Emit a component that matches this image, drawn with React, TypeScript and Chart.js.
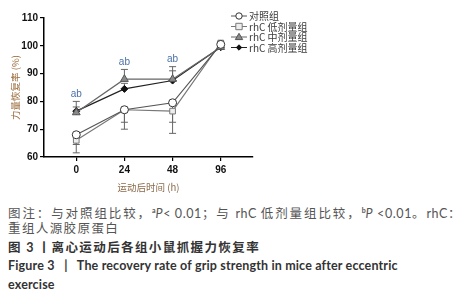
import React, { useEffect, useRef } from "react";
import { Chart, registerables } from "chart.js";

Chart.register(...registerables);

const categories = ["0", "24", "48", "96"];
const seriesNames = ["对照组", "rhC 低剂量组", "rhC 中剂量组", "rhC 高剂量组"];
const controlValues = [68, 77, 79.5, 100.5];
const lowValues = [66, 77, 76.5, 101];
const midValues = [76, 88, 88, 99.5];
const highValues = [76.5, 84.5, 87.5, 99.5];
const controlErr = [3.5, 4.5, 7, 1];
const lowErr = [4.5, 7, 8, 1];
const midErr = [4, 3.5, 4.5, 1];
const highErr = [1.5, 2, 3.5, 1];
// error bar direction per series: -1 below, +1 above
const errDirections = [-1, -1, 1, 1];
const significance = ["ab", "ab", "ab", ""];
const yTicks = [60, 70, 80, 90, 100, 110];

const allValues = [controlValues, lowValues, midValues, highValues];
const allErrs = [controlErr, lowErr, midErr, highErr];

const styles = [
  { line: "#555", radius: 4, style: "circle", bg: "#ffffff", border: "#333" },
  { line: "#777", radius: 4, style: "rect", bg: "#eeeeee", border: "#777" },
  { line: "#666", radius: 4.5, style: "triangle", bg: "#8a8a8a", border: "#555" },
  { line: "#222", radius: 3.5, style: "rectRot", bg: "#111", border: "#111" },
];

export default function App() {
  const ref = useRef<HTMLCanvasElement | null>(null);

  useEffect(() => {
    if (!ref.current) return;
    const legendPlugin = {
      id: "legendDraw",
      afterDraw(chart: any) {
        const ctx = chart.ctx;
        const lx = 231;
        const ly = [16, 26.5, 37, 47.5];
        ctx.save();
        ctx.font = "10px 'Noto Sans CJK SC', sans-serif";
        ctx.textAlign = "left";
        ctx.textBaseline = "middle";
        seriesNames.forEach((name, si) => {
          const st = styles[si];
          const y = ly[si];
          ctx.strokeStyle = st.line;
          ctx.lineWidth = 1;
          ctx.beginPath();
          ctx.moveTo(lx, y);
          ctx.lineTo(lx + 16, y);
          ctx.stroke();
          ctx.fillStyle = st.bg;
          ctx.strokeStyle = st.border;
          const r = st.radius - 0.8;
          ctx.beginPath();
          if (st.style === "circle") {
            ctx.arc(lx + 8, y, r, 0, Math.PI * 2);
          } else if (st.style === "rect") {
            ctx.rect(lx + 8 - r, y - r, 2 * r, 2 * r);
          } else if (st.style === "triangle") {
            ctx.moveTo(lx + 8, y - r);
            ctx.lineTo(lx + 8 + r, y + r * 0.7);
            ctx.lineTo(lx + 8 - r, y + r * 0.7);
            ctx.closePath();
          } else {
            ctx.moveTo(lx + 8, y - r);
            ctx.lineTo(lx + 8 + r, y);
            ctx.lineTo(lx + 8, y + r);
            ctx.lineTo(lx + 8 - r, y);
            ctx.closePath();
          }
          ctx.fill();
          ctx.stroke();
          ctx.fillStyle = "#3a3a3a";
          ctx.fillText(name, lx + 18, y + 0.5);
        });
        ctx.restore();
      },
    };
    const ebPlugin = {
      id: "eb",
      beforeDatasetsDraw(chart: any) {
        const ctx = chart.ctx;
        const xs = chart.scales.x;
        const ys = chart.scales.y;
        ctx.save();
        ctx.strokeStyle = "#666";
        ctx.lineWidth = 1;
        allValues.forEach((vals, si) => {
          vals.forEach((v, i) => {
            const e = allErrs[si][i];
            const x = xs.getPixelForValue(i);
            const y0 = ys.getPixelForValue(v);
            const y1 = ys.getPixelForValue(v + errDirections[si] * e);
            ctx.beginPath();
            ctx.moveTo(x, y0);
            ctx.lineTo(x, y1);
            ctx.moveTo(x - 3.5, y1);
            ctx.lineTo(x + 3.5, y1);
            ctx.stroke();
          });
        });
        ctx.restore();
      },
      afterDatasetsDraw(chart: any) {
        const ctx = chart.ctx;
        const xs = chart.scales.x;
        const ys = chart.scales.y;
        ctx.save();
        ctx.font = "10px 'Liberation Sans', Arial, sans-serif";
        ctx.fillStyle = "#4a70a8";
        ctx.textAlign = "center";
        ctx.textBaseline = "bottom";
        significance.forEach((s, i) => {
          if (!s) return;
          const top = midValues[i] + midErr[i];
          ctx.fillText(s, xs.getPixelForValue(i), ys.getPixelForValue(top) - 2);
        });
        ctx.restore();
      },
    };

    const chart = new Chart(ref.current, {
      type: "line",
      data: {
        datasets: allValues.map((vals, si) => ({
          label: seriesNames[si],
          data: vals.map((v, i) => ({ x: i, y: v })),
          borderColor: styles[si].line,
          borderWidth: 1.2,
          pointStyle: styles[si].style as any,
          pointRadius: styles[si].radius,
          pointBackgroundColor: styles[si].bg,
          pointBorderColor: styles[si].border,
          pointBorderWidth: 1,
          fill: false,
          tension: 0,
        })),
      },
      options: {
        animation: false,
        responsive: false,
        devicePixelRatio: 1,
        layout: { padding: { left: 0, right: 205, top: 18, bottom: 0 } },
        plugins: { legend: { display: false }, tooltip: { enabled: false } },
        scales: {
          x: {
            type: "linear",
            min: -0.67,
            max: 3.67,
            afterBuildTicks: (s: any) => {
              s.ticks = categories.map((_, i) => ({ value: i }));
            },
            afterFit: (s: any) => {
              s.height = 38;
            },
            ticks: {
              callback: (v: any) => categories[v] ?? "",
              color: "#111",
              font: { family: "'Liberation Sans', Arial, sans-serif", size: 10, weight: "bold" },
              padding: 3,
              maxRotation: 0,
            },
            grid: { drawOnChartArea: false, drawTicks: true, tickLength: 4, color: "#000", lineWidth: 1.2 },
            border: { display: true, color: "#000", width: 1.5 },
            title: {
              display: true,
              text: "运动后时间 (h)",
              color: "#8a6a4a",
              font: { family: "'Noto Sans CJK SC', sans-serif", size: 9.5 },
              padding: { top: 0, bottom: 2 },
            },
          },
          y: {
            min: 60,
            max: 110,
            afterBuildTicks: (s: any) => {
              s.ticks = yTicks.map((v) => ({ value: v }));
            },
            afterFit: (s: any) => {
              s.width = 44;
            },
            ticks: {
              color: "#111",
              font: { family: "'Liberation Sans', Arial, sans-serif", size: 10, weight: "bold" },
              padding: 2,
            },
            grid: { drawOnChartArea: false, drawTicks: true, tickLength: 4, color: "#000", lineWidth: 1.2 },
            border: { display: true, color: "#000", width: 1.5 },
            title: {
              display: true,
              text: "力量恢复率 (%)",
              color: "#9a6a3a",
              font: { family: "'Noto Sans CJK SC', sans-serif", size: 9.5 },
              padding: { top: 10, bottom: 0 },
            },
          },
        },
      },
      plugins: [ebPlugin, legendPlugin],
    } as any);
    return () => chart.destroy();
  }, []);

  const capStyle: React.CSSProperties = {
    position: "absolute",
    left: 8,
    whiteSpace: "nowrap",
    fontSize: 12.5,
    lineHeight: "16px",
    letterSpacing: "1.4px",
    fontFamily: "'Noto Sans CJK SC', sans-serif",
  };
  const latin: React.CSSProperties = { fontFamily: "Lato, sans-serif", letterSpacing: 0 };
  const latin1: React.CSSProperties = { fontFamily: "Lato, sans-serif", letterSpacing: "0.6px" };
  const sup: React.CSSProperties = { fontSize: 7, verticalAlign: "5px", fontFamily: "Lato, sans-serif", letterSpacing: 0, fontWeight: "bold" };

  return (
    <div style={{ position: "absolute", left: 0, top: 0, width: 458, height: 300, background: "#fff" }}>
      <canvas ref={ref} width={458} height={195} style={{ position: "absolute", left: 0, top: 0, width: 458, height: 195 }} />
      <div style={{ ...capStyle, top: 202, color: "#555", letterSpacing: "1.9px" }}>
        图注：与对照组比较，<span style={sup}>a</span>
        <span style={latin1}><i>P</i>&lt; 0.01</span>；与 <span style={latin1}>rhC </span>低剂量组比较，
        <span style={sup}>b</span>
        <span style={latin1}><i>P</i> &lt;0.01</span>。<span style={latin1}>rhC</span>：
      </div>
      <div style={{ ...capStyle, top: 220, color: "#555" }}>
        重组人源胶原蛋白
      </div>
      <div style={{ ...capStyle, top: 239, color: "#333", fontWeight: "bold" }}>
        图 <span style={latin}>3</span> 丨离心运动后各组小鼠抓握力恢复率
      </div>
      <div style={{ ...capStyle, ...latin, top: 258, color: "#333", fontWeight: "bold", fontSize: 12.5, letterSpacing: "0.16px" }}>
        Figure 3&nbsp;&nbsp;&nbsp;|&nbsp;&nbsp;&nbsp;The recovery rate of grip strength in mice after eccentric
      </div>
      <div style={{ ...capStyle, ...latin, top: 277, color: "#333", fontWeight: "bold", fontSize: 12.5, letterSpacing: "0.16px" }}>
        exercise
      </div>
    </div>
  );
}
